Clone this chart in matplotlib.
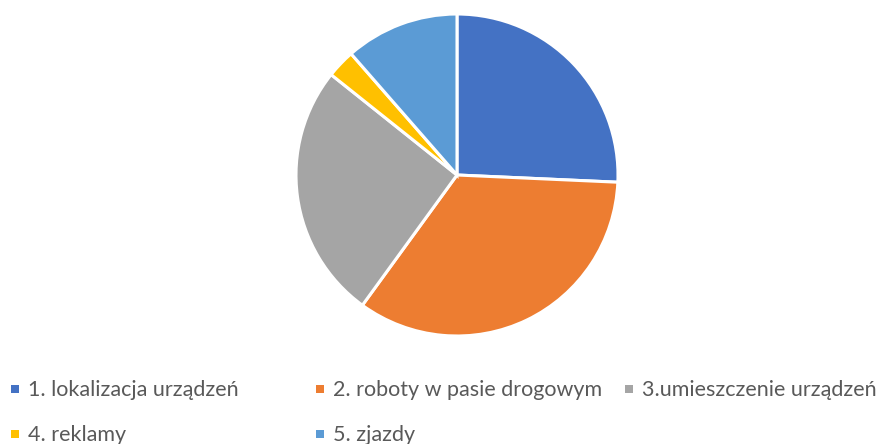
import matplotlib
matplotlib.use("Agg")
import matplotlib.pyplot as plt
from matplotlib.patches import Rectangle

etykiety = ["1. lokalizacja urządzeń", "2. roboty w pasie drogowym", "3.umieszczenie urządzeń",
            "4. reklamy", "5. zjazdy"]
wartosci = [9, 12, 9, 1, 4]
kolory = ["#4472C4", "#ED7D31", "#A5A5A5", "#FFC000", "#5B9BD5"]

W, H = 881, 444
fig = plt.figure(figsize=(W / 100, H / 100), dpi=100)

# pie: center (457,175), radius 161 px
cx, cy, r = 457, 175, 161
ax = fig.add_axes([(cx - r) / W, (H - cy - r) / H, 2 * r / W, 2 * r / H])
ax.pie(wartosci, colors=kolory, startangle=90, counterclock=False, radius=1,
       wedgeprops=dict(edgecolor="white", linewidth=2.2))
ax.set_xlim(-1.0, 1.0)
ax.set_ylim(-1.0, 1.0)
ax.set_aspect("auto")
ax.axis("off")

# legend placed like excel (row-major, fixed columns)
pozycje = [(11, 396), (316, 396), (625, 396), (11, 441), (316, 441)]
for (x, y), lab, kol in zip(pozycje, etykiety, kolory):
    fig.patches.append(Rectangle((x / W, (H - y + 3) / H), 8 / W, 8 / H,
                                 transform=fig.transFigure, facecolor=kol, edgecolor="none"))
    fig.text((x + 17) / W, (H - y) / H, lab, fontsize=15.5, family="Lato",
             color="#595959", va="baseline", ha="left")

fig.savefig("out.png", dpi=100)
